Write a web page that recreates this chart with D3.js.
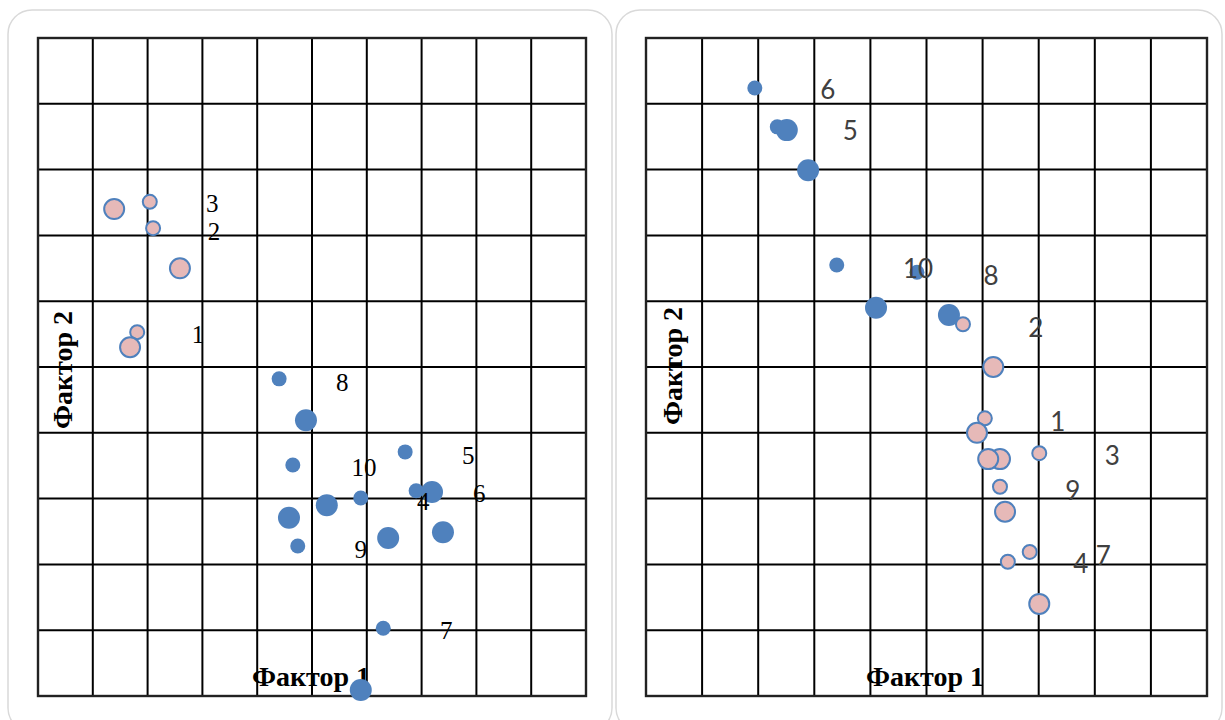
<!DOCTYPE html>
<html>
<head>
<meta charset="utf-8">
<script src="https://cdn.jsdelivr.net/npm/d3@7"></script>
<style>
  body { margin: 0; background: #fff; }
  svg { display: block; }
</style>
</head>
<body>
<svg id="chart" width="1225" height="720"></svg>
<script>
// grid units: both axes 0..10 (one unit = one grid cell)
var gridTicks = [0, 1, 2, 3, 4, 5, 6, 7, 8, 9, 10];

// left panel
var leftPinkX = [1.39, 2.04, 2.10, 2.59, 1.81, 1.68];
var leftPinkY = [7.40, 7.51, 7.11, 6.50, 5.53, 5.30];
var leftPinkSize = [2, 1, 1, 2, 1, 2];

var leftBlueX = [4.40, 4.89, 4.65, 6.70, 5.89, 6.90, 7.19, 5.27, 4.58, 7.39, 6.39, 4.74, 6.30, 5.89];
var leftBlueY = [4.82, 4.19, 3.51, 3.71, 3.01, 3.12, 3.10, 2.90, 2.71, 2.49, 2.40, 2.28, 1.03, 0.09];
var leftBlueSize = [1, 2, 1, 1, 1, 1, 2, 2, 2, 2, 2, 1, 1, 2];

var leftLabels = ["3", "2", "1", "8", "10", "5", "6", "4", "9", "7"];
var leftLabelX = [3.18, 3.21, 2.92, 5.55, 5.95, 7.85, 8.05, 7.03, 5.89, 7.45];
var leftLabelY = [7.49, 7.06, 5.50, 4.76, 3.48, 3.66, 3.07, 2.96, 2.23, 0.99];

// right panel
var rightBlueX = [1.94, 2.34, 2.51, 2.89, 3.40, 4.83, 4.10, 5.40];
var rightBlueY = [9.24, 8.65, 8.60, 7.99, 6.55, 6.44, 5.90, 5.79];
var rightBlueSize = [1, 1, 2, 2, 1, 1, 2, 2];

var rightPinkX = [5.65, 6.19, 6.04, 5.90, 6.31, 6.10, 7.01, 6.31, 6.40, 6.84, 6.45, 7.01];
var rightPinkY = [5.65, 5.00, 4.22, 4.00, 3.60, 3.60, 3.69, 3.18, 2.80, 2.19, 2.04, 1.40];
var rightPinkSize = [1, 2, 1, 2, 2, 2, 1, 1, 2, 1, 1, 2];

var rightLabels = ["6", "5", "10", "8", "2", "1", "3", "9", "4", "7"];
var rightLabelX = [3.24, 3.64, 4.85, 6.15, 6.95, 7.34, 8.31, 7.61, 7.75, 8.15];
var rightLabelY = [9.22, 8.60, 6.50, 6.40, 5.61, 4.18, 3.66, 3.13, 2.02, 2.14];

var xTitle = "Фактор 1";
var yTitle = "Фактор 2";

function zip(xs, ys, ss) {
  return xs.map(function (d, i) { return { x: d, y: ys[i], s: ss ? ss[i] : 1 }; });
}

var svg = d3.select("#chart");

var blue = "#4F81BD";
var pink = "#E6B9B8";

function drawPanel(cfg) {
  var g = svg.append("g");

  // panel card
  g.append("rect")
    .attr("x", cfg.box[0]).attr("y", 10)
    .attr("width", cfg.box[1] - cfg.box[0]).attr("height", 722)
    .attr("rx", 24).attr("ry", 24)
    .attr("fill", "#fff")
    .attr("stroke", "#d9d9d9")
    .attr("stroke-width", 1.5);

  var x = d3.scaleLinear().domain([0, 10]).range(cfg.xr);
  var y = d3.scaleLinear().domain([0, 10]).range([696, 38]);

  // grid lines
  g.append("g").selectAll("line")
    .data(gridTicks).enter().append("line")
    .attr("x1", function (d) { return x(d); })
    .attr("x2", function (d) { return x(d); })
    .attr("y1", y(0)).attr("y2", y(10))
    .attr("stroke", "#000").attr("stroke-width", 2);
  g.append("g").selectAll("line")
    .data(gridTicks).enter().append("line")
    .attr("y1", function (d) { return y(d); })
    .attr("y2", function (d) { return y(d); })
    .attr("x1", x(0)).attr("x2", x(10))
    .attr("stroke", "#000").attr("stroke-width", 2);
  g.append("rect")
    .attr("x", x(0)).attr("y", y(10))
    .attr("width", x(10) - x(0)).attr("height", y(0) - y(10))
    .attr("fill", "none").attr("stroke", "#222").attr("stroke-width", 2.4);

  // axis titles
  g.append("text")
    .attr("x", cfg.xTitlePos).attr("y", 676)
    .attr("text-anchor", "middle").attr("dominant-baseline", "central")
    .attr("font-family", "Liberation Serif, serif")
    .attr("font-weight", "bold").attr("font-size", 28)
    .text(xTitle);
  g.append("text")
    .attr("transform", "translate(" + cfg.yTitlePos[0] + "," + cfg.yTitlePos[1] + ") rotate(-90)")
    .attr("text-anchor", "middle").attr("dominant-baseline", "central")
    .attr("font-family", "Liberation Serif, serif")
    .attr("font-weight", "bold").attr("font-size", 28)
    .text(yTitle);

  var r = d3.scaleOrdinal().domain([1, 2]).range([7.5, 11]);
  var rp = d3.scaleOrdinal().domain([1, 2]).range([7, 10]);

  function blueDots(pts) {
    g.append("g").selectAll("circle").data(pts).enter().append("circle")
      .attr("cx", function (d) { return x(d.x); })
      .attr("cy", function (d) { return y(d.y); })
      .attr("r", function (d) { return r(d.s); })
      .attr("fill", blue);
  }
  function pinkDots(pts) {
    g.append("g").selectAll("circle").data(pts).enter().append("circle")
      .attr("cx", function (d) { return x(d.x); })
      .attr("cy", function (d) { return y(d.y); })
      .attr("r", function (d) { return rp(d.s); })
      .attr("fill", pink)
      .attr("stroke", blue).attr("stroke-width", 2);
  }

  cfg.order.forEach(function (o) {
    if (o[0] === "blue") blueDots(o[1]); else pinkDots(o[1]);
  });

  // point labels
  g.append("g").selectAll("text").data(cfg.labels).enter().append("text")
    .attr("x", function (d) { return x(d.x); })
    .attr("y", function (d) { return y(d.y); })
    .attr("text-anchor", "middle").attr("dominant-baseline", "central")
    .attr("font-family", cfg.labelFont)
    .attr("font-size", cfg.labelSize)
    .attr("fill", cfg.labelColor)
    .text(function (d) { return d.t; });
}

drawPanel({
  box: [8, 612],
  xr: [38, 586],
  xTitlePos: 311,
  yTitlePos: [62, 370],
  order: [["pink", zip(leftPinkX, leftPinkY, leftPinkSize)], ["blue", zip(leftBlueX, leftBlueY, leftBlueSize)]],
  labels: leftLabels.map(function (t, i) { return { t: t, x: leftLabelX[i], y: leftLabelY[i] }; }),
  labelFont: "Liberation Serif, serif",
  labelSize: 25,
  labelColor: "#000"
});

drawPanel({
  box: [616, 1222],
  xr: [646, 1207],
  xTitlePos: 925,
  yTitlePos: [672, 366],
  order: [["blue", zip(rightBlueX, rightBlueY, rightBlueSize)], ["pink", zip(rightPinkX, rightPinkY, rightPinkSize)]],
  labels: rightLabels.map(function (t, i) { return { t: t, x: rightLabelX[i], y: rightLabelY[i] }; }),
  labelFont: "Lato, Carlito, sans-serif",
  labelSize: 26,
  labelColor: "#404040"
});
</script>
</body>
</html>
